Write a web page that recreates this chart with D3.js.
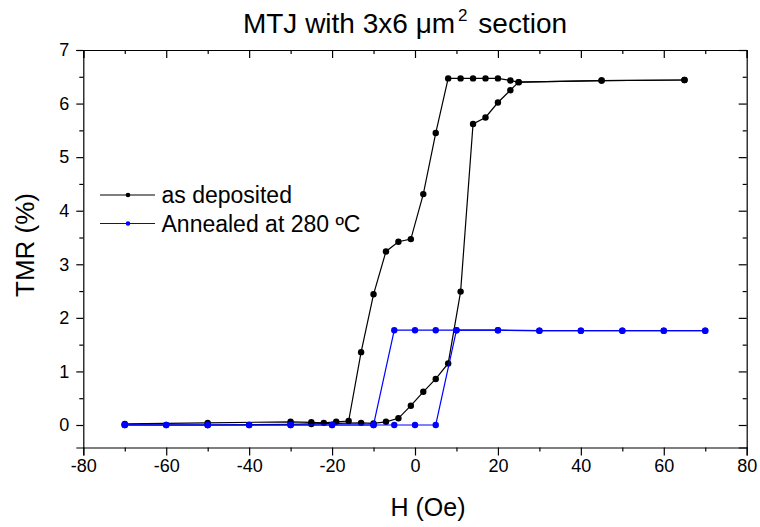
<!DOCTYPE html>
<html>
<head>
<meta charset="utf-8">
<script src="https://cdn.jsdelivr.net/npm/d3@7"></script>
<style>
  html, body { margin: 0; padding: 0; background: #fff; }
  svg { display: block; font-family: Arial, "Liberation Sans", sans-serif; }
</style>
</head>
<body>
<svg id="chart" width="760" height="527"></svg>
<script>
// Magnetoresistance loop of the junction: field sweep (Oe) and TMR (%)
// "as deposited": sweep down from +65 Oe, then back up from -70 Oe
const depositedDownH   = [65, 45, 25, 23, 20, 17, 14, 11, 8, 5, 2, -1, -4, -7, -10, -13, -16, -19, -22, -25, -30, -50, -70];
const depositedDownTMR = [6.44, 6.43, 6.40, 6.43, 6.47, 6.47, 6.47, 6.47, 6.47, 5.45, 4.31, 3.47, 3.42, 3.24, 2.44, 1.36, 0.075, 0.06, 0.04, 0.05, 0.06, 0.04, 0.02];
const depositedUpH     = [-70, -50, -30, -25, -13, -10, -7, -4, -1, 2, 5, 8, 11, 14, 17, 20, 23, 25, 45, 65];
const depositedUpTMR   = [0.0, 0.0, 0.01, 0.02, 0.04, 0.03, 0.06, 0.125, 0.36, 0.62, 0.86, 1.15, 2.49, 5.62, 5.74, 6.02, 6.25, 6.40, 6.43, 6.44];

// "Annealed at 280 ºC": same sweep order
const annealedDownH   = [70, 60, 50, 40, 30, 20, 10, 5, 0, -5, -10, -20, -30, -40, -50, -60, -70];
const annealedDownTMR = [1.76, 1.76, 1.76, 1.76, 1.76, 1.77, 1.77, 1.77, 1.77, 1.77, 0.0, 0.0, 0.0, 0.0, 0.0, 0.0, 0.0];
const annealedUpH     = [-70, -60, -50, -40, -30, -20, -10, -5, 0, 5, 10, 20, 30, 40, 50, 60, 70];
const annealedUpTMR   = [0.005, 0.0, 0.0, 0.0, 0.0, 0.0, 0.0, 0.0, 0.0, 0.0, 1.77, 1.77, 1.76, 1.76, 1.76, 1.76, 1.76];

const xTicks = [-80, -60, -40, -20, 0, 20, 40, 60, 80];
const yTicks = [0, 1, 2, 3, 4, 5, 6, 7];
const xMinorTicks = [-70, -50, -30, -10, 10, 30, 50, 70];
const yMinorTicks = [0.5, 1.5, 2.5, 3.5, 4.5, 5.5, 6.5];

const series = [
  { name: "as deposited", color: "#000000",
    branches: [[depositedDownH, depositedDownTMR], [depositedUpH, depositedUpTMR]] },
  { name: "Annealed at 280 \u00BAC", color: "#0000ff",
    branches: [[annealedDownH, annealedDownTMR], [annealedUpH, annealedUpTMR]] }
];

const svg = d3.select("#chart");
const plot = { left: 83.3, right: 746.7, top: 50, bottom: 447.5 };

const x = d3.scaleLinear().domain([-80, 80]).range([plot.left, plot.right]);
const y = d3.scaleLinear().domain([-0.42, 7]).range([plot.bottom, plot.top]);

// Axes: outward ticks on bottom/left, inward mirrored ticks on top/right
function styleAxis(g) {
  g.select(".domain").attr("stroke", "#000").attr("stroke-width", 1.2);
  g.selectAll(".tick line").attr("stroke", "#000").attr("stroke-width", 1.2);
}

const bottomMajor = svg.append("g").attr("transform", `translate(0,${plot.bottom})`)
  .call(d3.axisBottom(x).tickValues(xTicks).tickSize(8).tickPadding(4).tickFormat(d3.format("d")))
  .call(styleAxis);
bottomMajor.selectAll("text").attr("font-size", 18).attr("fill", "#000")
  .attr("font-family", "Arial, 'Liberation Sans', sans-serif").text(d => d < 0 ? "-" + Math.abs(d) : d);
svg.append("g").attr("transform", `translate(0,${plot.bottom})`)
  .call(d3.axisBottom(x).tickValues(xMinorTicks).tickSize(4).tickFormat(""))
  .call(styleAxis).select(".domain").remove();

const leftMajor = svg.append("g").attr("transform", `translate(${plot.left},0)`)
  .call(d3.axisLeft(y).tickValues(yTicks).tickSize(7).tickPadding(7).tickFormat(d3.format("d")))
  .call(styleAxis);
leftMajor.selectAll("text").attr("font-size", 18).attr("fill", "#000")
  .attr("font-family", "Arial, 'Liberation Sans', sans-serif");
svg.append("g").attr("transform", `translate(${plot.left},0)`)
  .call(d3.axisLeft(y).tickValues(yMinorTicks).tickSize(4).tickFormat(""))
  .call(styleAxis).select(".domain").remove();

svg.append("g").attr("transform", `translate(0,${plot.top})`)
  .call(d3.axisBottom(x).tickValues(xTicks).tickSize(8).tickFormat(""))
  .call(styleAxis)
  .call(g => g.selectAll(".tick line").attr("y2", 8));
svg.append("g").attr("transform", `translate(0,${plot.top})`)
  .call(d3.axisBottom(x).tickValues(xMinorTicks).tickSize(4).tickFormat(""))
  .call(styleAxis).select(".domain").remove();

svg.append("g").attr("transform", `translate(${plot.right},0)`)
  .call(d3.axisLeft(y).tickValues(yTicks).tickSize(8).tickFormat(""))
  .call(styleAxis)
  .call(g => g.selectAll(".tick line").attr("x2", -8));
svg.append("g").attr("transform", `translate(${plot.right},0)`)
  .call(d3.axisLeft(y).tickValues(yMinorTicks).tickSize(4).tickFormat(""))
  .call(styleAxis).select(".domain").remove();

// Curves
const line = d3.line().x(d => x(d[0])).y(d => y(d[1]));
series.forEach(s => {
  const g = svg.append("g");
  s.branches.forEach(([hs, vs]) => {
    const pts = hs.map((h, i) => [h, vs[i]]);
    g.append("path").datum(pts).attr("d", line)
      .attr("fill", "none").attr("stroke", s.color).attr("stroke-width", 1.2);
    g.selectAll(null).data(pts).enter().append("circle")
      .attr("cx", d => x(d[0])).attr("cy", d => y(d[1])).attr("r", 3.2)
      .attr("fill", s.color);
  });
});

// Legend
const legend = svg.append("g");
series.forEach((s, i) => {
  const ly = 195 + i * 28.5;
  legend.append("line").attr("x1", 100).attr("x2", 155).attr("y1", ly).attr("y2", ly)
    .attr("stroke", s.color).attr("stroke-width", 1.2);
  legend.append("circle").attr("cx", 128).attr("cy", ly).attr("r", 2.3).attr("fill", s.color);
  legend.append("text").attr("x", 161.5).attr("y", ly + 8.3)
    .attr("font-size", 23).attr("fill", "#000").text(s.name);
});

// Titles
const title = svg.append("text").attr("x", 405).attr("y", 33)
  .attr("text-anchor", "middle").attr("font-size", 28).attr("fill", "#000");
title.append("tspan").text("MTJ with 3x6 \u03BCm");
title.append("tspan").attr("font-size", 17).attr("dx", 3).attr("dy", -12).text("2");
title.append("tspan").attr("dx", 3).attr("dy", 12).text(" section");

svg.append("text").attr("x", 428).attr("y", 516).attr("text-anchor", "middle")
  .attr("font-size", 25).attr("fill", "#000").text("H (Oe)");

svg.append("text").attr("transform", "translate(34,245) rotate(-90)")
  .attr("text-anchor", "middle").attr("font-size", 26).attr("fill", "#000").text("TMR (%)");
</script>
</body>
</html>
